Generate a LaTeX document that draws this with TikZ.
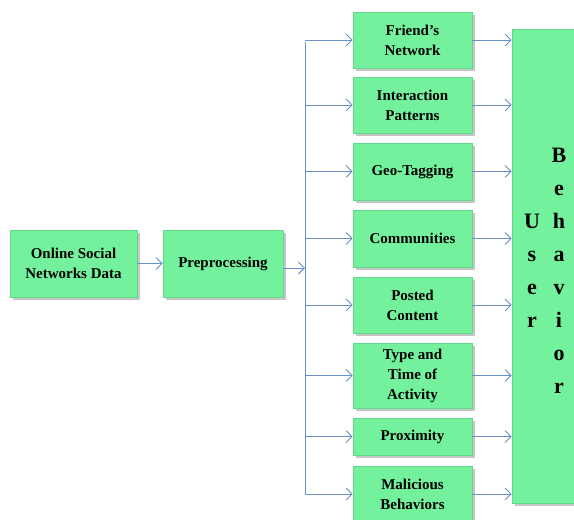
\documentclass[tikz,border=0pt]{standalone}
\usepackage{fontspec}
\setmainfont{Liberation Serif}
\usepackage{tikz}
\usetikzlibrary{shadows}
\usetikzlibrary{arrows.meta}
\definecolor{mintgreen}{HTML}{74F19C}
\definecolor{mintedge}{HTML}{62D888}
\definecolor{arrowblue}{HTML}{6A8FC6}
\tikzstyle{block}=[rectangle,fill=mintgreen,draw=mintedge,line width=0.6pt,inner sep=0pt,
  align=center,font=\fontsize{15}{20}\selectfont\bfseries,
  drop shadow={shadow xshift=2.5pt,shadow yshift=-2.5pt,opacity=0.45}]
\tikzstyle{link}=[draw,arrowblue,line width=0.9pt,-{Straight Barb[length=6pt,width=12pt]}]
\tikzstyle{trunk}=[draw,arrowblue,line width=0.9pt]
\tikzstyle{bigletter}=[align=center,font=\fontsize{22}{33}\selectfont\bfseries]

\begin{document}
\begin{tikzpicture}[x=1pt,y=-1pt]
    \useasboundingbox (0,0) rectangle (574,520);

    % input side
    \node[block,minimum width=127pt,minimum height=67pt] (osn) at (73.5,263.5) {Online Social\\Networks Data};
    \node[block,minimum width=120pt,minimum height=67pt] (pre) at (223,263.5) {Preprocessing};

    % user behavior box (runs past the right edge)
    \node[block,minimum width=90pt,minimum height=474pt] (ub) at (557,266) {};
    \node[bigletter] (user) at (532,271) {U\\s\\e\\r};
    \node[bigletter] (behav) at (559,271) {B\\e\\h\\a\\v\\i\\o\\r};

    % features
    \foreach \pos/\name/\h/\txt in {{(412.5,40)/fn/56/{Friend’s\\Network}},
                                   {(412.5,105)/ip/56/{Interaction\\Patterns}},
                                   {(412.5,171.5)/gt/57/{Geo-Tagging}},
                                   {(412.5,238.5)/cm/57/{Communities}},
                                   {(412.5,305)/pc/56/{Posted\\Content}},
                                   {(412.5,375.5)/ta/65/{Type  and\\Time of\\Activity}},
                                   {(412.5,436.5)/px/37/{Proximity}},
                                   {(412.5,494)/mb/56/{Malicious\\Behaviors}}}
        \node[block,minimum width=119pt,minimum height=\h pt] (\name) at \pos {\txt};

    \coordinate (split) at (305,268);
    \coordinate (top) at (305,42);
    \coordinate (bot) at (305,495);

    % connect
    \path[link] (osn) -- (pre);
    \path[link] (pre.east |- split) -- (split);
    \path[trunk] (top) -- (bot);
    \foreach \name in {fn,ip,gt,cm,pc,ta,px,mb} {
        \path[link] (\name.west -| split) -- (\name.west);
        \path[link] (\name.east) -- (\name.east -| ub.west);
    }

\end{tikzpicture}
\end{document}
